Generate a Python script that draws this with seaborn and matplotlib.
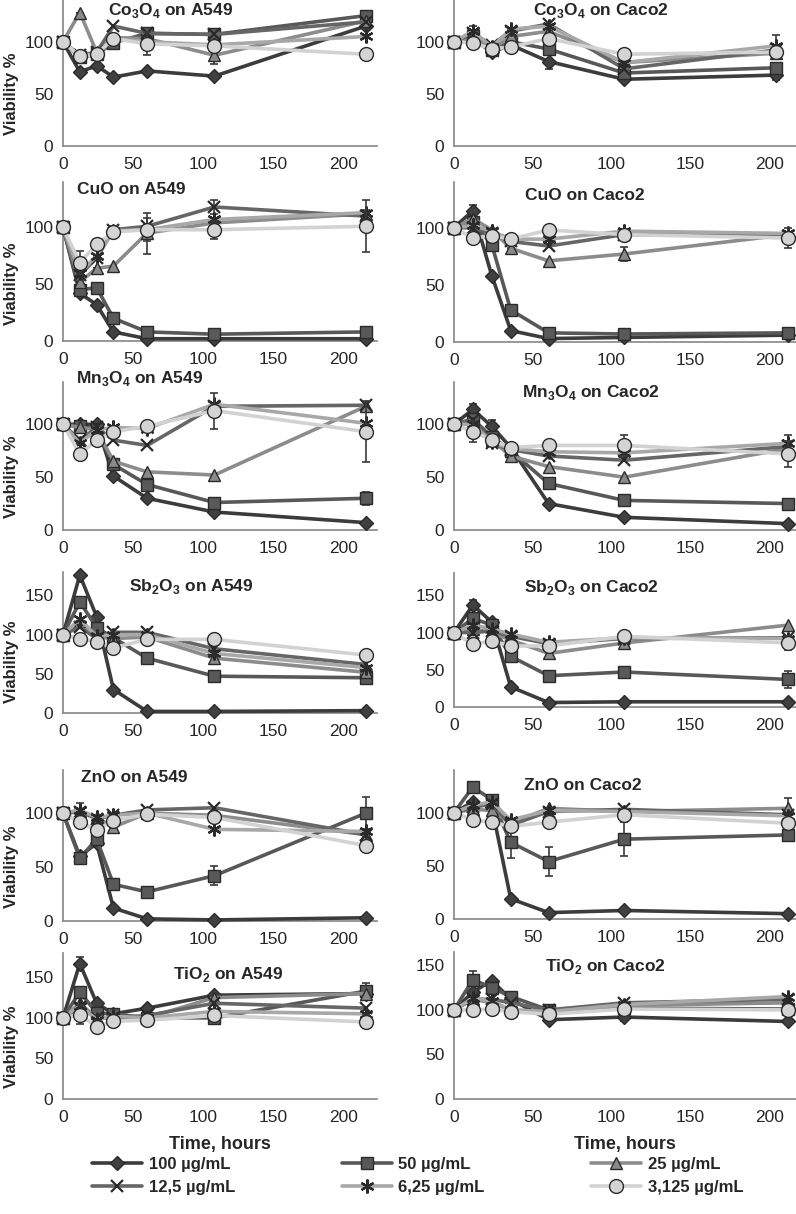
import numpy as np
import pandas as pd
import seaborn as sns
import matplotlib.pyplot as plt
from matplotlib.lines import Line2D

# concentrations (legend order) and sampling times
conc_labels = ["100 µg/mL", "50 µg/mL", "25 µg/mL", "12,5 µg/mL", "6,25 µg/mL", "3,125 µg/mL"]
t_a549 = [0, 12, 24, 36, 60, 108, 216]
t_caco2 = [0, 12, 24, 36, 60, 108, 212]
t_caco2_co = [0, 12, 24, 36, 60, 108, 204]
x_ticks = [0, 50, 100, 150, 200]

# viability %, one row per concentration: 100, 50, 25, 12,5, 6,25, 3,125 µg/mL
co3o4_a549 = [[100, 71, 77, 66, 72, 67, 115],
              [100, 85, 88, 99, 108, 107, 125],
              [100, 128, 90, 104, 103, 87, 120],
              [100, 87, 90, 115, 108, 107, 119],
              [100, 86, 88, 103, 100, 97, 105],
              [100, 86, 88, 103, 98, 96, 88]]
co3o4_caco2 = [[100, 103, 90, 97, 81, 64, 68],
               [100, 105, 92, 100, 93, 70, 75],
               [100, 105, 93, 105, 110, 80, 89],
               [100, 108, 97, 110, 117, 74, 92],
               [100, 110, 95, 112, 115, 80, 96],
               [100, 99, 93, 95, 103, 88, 90]]
cuo_a549 = [[100, 42, 32, 8, 2, 2, 2],
            [100, 45, 47, 20, 8, 6, 8],
            [100, 52, 64, 66, 95, 104, 112],
            [100, 58, 73, 98, 101, 118, 110],
            [100, 60, 75, 97, 98, 107, 113],
            [100, 69, 85, 96, 98, 98, 101]]
cuo_caco2 = [[100, 115, 58, 10, 3, 4, 6],
             [100, 105, 85, 28, 8, 7, 8],
             [100, 108, 98, 82, 71, 77, 94],
             [100, 100, 95, 88, 84, 94, 93],
             [100, 102, 97, 90, 90, 97, 95],
             [100, 91, 93, 90, 98, 94, 91]]
mn3o4_a549 = [[100, 100, 100, 51, 30, 17, 7],
              [100, 98, 96, 62, 43, 26, 30],
              [100, 97, 95, 65, 55, 52, 117],
              [100, 85, 97, 85, 80, 117, 118],
              [100, 82, 95, 97, 96, 119, 101],
              [100, 72, 85, 93, 98, 113, 93]]
mn3o4_caco2 = [[100, 114, 98, 78, 25, 12, 6],
               [100, 105, 88, 75, 44, 28, 25],
               [100, 100, 85, 70, 60, 50, 77],
               [100, 104, 82, 76, 70, 66, 79],
               [100, 100, 83, 77, 74, 73, 82],
               [100, 93, 85, 78, 80, 80, 72]]
sb2o3_a549 = [[100, 176, 123, 30, 2, 2, 3],
              [100, 142, 109, 96, 70, 47, 45],
              [100, 118, 97, 95, 97, 70, 52],
              [100, 110, 95, 103, 103, 82, 62],
              [100, 120, 98, 100, 100, 76, 58],
              [100, 95, 91, 83, 94, 94, 74]]
sb2o3_caco2 = [[100, 137, 114, 27, 6, 7, 7],
               [100, 119, 110, 68, 42, 47, 37],
               [100, 105, 100, 90, 72, 86, 110],
               [100, 100, 102, 95, 85, 92, 93],
               [100, 110, 105, 98, 87, 93, 92],
               [100, 84, 89, 82, 82, 95, 86]]
zno_a549 = [[100, 60, 72, 12, 2, 1, 3],
            [100, 58, 76, 34, 27, 42, 100],
            [100, 102, 96, 87, 100, 98, 80],
            [100, 101, 95, 98, 103, 105, 80],
            [100, 103, 96, 98, 100, 85, 83],
            [100, 92, 84, 93, 99, 96, 70]]
zno_caco2 = [[100, 110, 105, 19, 6, 8, 5],
             [100, 124, 112, 72, 54, 75, 79],
             [100, 103, 102, 90, 104, 101, 104],
             [100, 105, 108, 88, 101, 103, 98],
             [100, 107, 110, 93, 102, 101, 97],
             [100, 93, 91, 87, 91, 98, 90]]
tio2_a549 = [[100, 167, 118, 105, 112, 128, 130],
             [100, 132, 106, 105, 100, 100, 133],
             [100, 118, 100, 100, 100, 125, 130],
             [100, 113, 100, 100, 103, 118, 112],
             [100, 115, 98, 102, 100, 108, 105],
             [100, 104, 89, 96, 97, 103, 95]]
tio2_caco2 = [[100, 120, 133, 112, 89, 92, 87],
              [100, 134, 125, 115, 100, 102, 101],
              [100, 112, 108, 100, 98, 105, 108],
              [100, 112, 112, 108, 100, 108, 112],
              [100, 113, 110, 100, 98, 106, 115],
              [100, 100, 101, 98, 95, 101, 100]]

# error bars (series index -> +/- values)
err_co3o4_a549 = {2: [0, 0, 0, 0, 0, 8, 0], 5: [0, 0, 0, 0, 11, 0, 0]}
err_co3o4_caco2 = {0: [0, 0, 0, 0, 7, 0, 5], 4: [0, 5, 0, 0, 0, 0, 10]}
err_cuo_a549 = {5: [0, 10, 5, 5, 0, 8, 23], 3: [0, 0, 0, 0, 0, 6, 5], 2: [0, 0, 0, 0, 18, 0, 0], 4: [0, 0, 0, 0, 10, 0, 0]}
err_cuo_caco2 = {0: [0, 5, 0, 0, 0, 0, 0], 5: [0, 4, 0, 0, 0, 0, 9], 2: [0, 0, 0, 0, 0, 6, 0]}
err_mn3o4_a549 = {5: [0, 0, 0, 0, 5, 17, 29], 1: [0, 0, 0, 0, 0, 0, 6]}
err_mn3o4_caco2 = {0: [0, 5, 6, 0, 0, 0, 0], 5: [0, 10, 0, 0, 0, 10, 12], 4: [0, 0, 0, 0, 0, 0, 8]}
err_sb2o3_a549 = {}
err_sb2o3_caco2 = {0: [0, 7, 0, 0, 0, 0, 0], 1: [0, 0, 0, 5, 0, 0, 12], 5: [0, 0, 0, 0, 0, 0, 10]}
err_zno_a549 = {1: [0, 0, 0, 0, 0, 9, 15], 4: [0, 6, 0, 0, 0, 0, 0]}
err_zno_caco2 = {1: [0, 0, 0, 15, 14, 16, 0], 2: [0, 0, 0, 0, 0, 0, 10]}
err_tio2_a549 = {0: [0, 8, 0, 0, 0, 0, 0], 5: [0, 12, 0, 0, 0, 0, 8], 1: [0, 0, 0, 0, 0, 0, 10]}
err_tio2_caco2 = {1: [0, 10, 0, 0, 0, 0, 0], 0: [0, 0, 0, 0, 0, 5, 0]}

sns.set_style("white")
plt.rcParams['font.family'] = ['Liberation Sans', 'DejaVu Sans']
plt.rcParams['mathtext.fontset'] = 'custom'
plt.rcParams['mathtext.rm'] = 'Liberation Sans:bold'
plt.rcParams['mathtext.bf'] = 'Liberation Sans:bold'

line_colors = ["#3c3c3c", "#585858", "#8c8c8c", "#666666", "#a8a8a8", "#d2d2d2"]
face_colors = ["#404040", "#595959", "#8a8a8a", "#404040", "#404040", "#d4d4d4"]
markers = ["D", "s", "^", "x", (6, 2, 0), "o"]
msizes = [7, 9, 9, 9, 10, 10]

W, H = 796, 1214
fig = plt.figure(figsize=(W / 100, H / 100), dpi=100)

# (title, times, data, errors, ymax, column, axes top px, axes bottom px, title centre px)
panels = [
    (r"Co$_3$O$_4$ on A549", t_a549, co3o4_a549, err_co3o4_a549, 140, 0, 0, 146, (171, 11)),
    (r"Co$_3$O$_4$ on Caco2", t_caco2_co, co3o4_caco2, err_co3o4_caco2, 140, 1, 0, 146, (601, 11)),
    ("CuO on A549", t_a549, cuo_a549, err_cuo_a549, 140, 0, 182, 341, (131, 189)),
    ("CuO on Caco2", t_caco2, cuo_caco2, err_cuo_caco2, 140, 1, 182, 342, (585, 196)),
    (r"Mn$_3$O$_4$ on A549", t_a549, mn3o4_a549, err_mn3o4_a549, 140, 0, 382, 530, (140, 378)),
    (r"Mn$_3$O$_4$ on Caco2", t_caco2, mn3o4_caco2, err_mn3o4_caco2, 140, 1, 382, 530, (591, 393)),
    (r"Sb$_2$O$_3$ on A549", t_a549, sb2o3_a549, err_sb2o3_a549, 180, 0, 572, 713, (191, 586)),
    (r"Sb$_2$O$_3$ on Caco2", t_caco2, sb2o3_caco2, err_sb2o3_caco2, 180, 1, 573, 707, (591, 588)),
    ("ZnO on A549", t_a549, zno_a549, err_zno_a549, 140, 0, 770, 921, (134, 778)),
    ("ZnO on Caco2", t_caco2, zno_caco2, err_zno_caco2, 140, 1, 770, 919, (583, 785)),
    (r"TiO$_2$ on A549", t_a549, tio2_a549, err_tio2_a549, 180, 0, 953, 1099, (228, 974)),
    (r"TiO$_2$ on Caco2", t_caco2, tio2_caco2, err_tio2_caco2, 165, 1, 952, 1099, (605, 966)),
]

col_x = [(63, 377, 224), (454, 796, 217)]

for i, (title, times, data, errs, ymax, col, top, bot, tpos) in enumerate(panels):
    x0, x1, xmax = col_x[col]
    ax = fig.add_axes([x0 / W, 1 - bot / H, (x1 - x0) / W, (bot - top) / H])
    ax.patch.set_alpha(0)
    df = pd.DataFrame({
        "time": np.tile(times, len(conc_labels)),
        "viability": np.concatenate(data),
        "conc": np.repeat(conc_labels, len(times)),
    })
    for k, lab in enumerate(conc_labels):
        sub = df[df["conc"] == lab]
        sns.lineplot(data=sub, x="time", y="viability", ax=ax, color=line_colors[k],
                     lw=2.6, marker=markers[k], markersize=msizes[k],
                     markerfacecolor=face_colors[k], markeredgecolor="#2a2a2a",
                     markeredgewidth=1.0 if k not in (3, 4) else 1.6,
                     sort=False, estimator=None, legend=False, zorder=3 + k, clip_on=False)
        if k in errs:
            ax.errorbar(times, data[k], yerr=errs[k], fmt="none", ecolor="#3a3a3a",
                        elinewidth=1.2, capsize=3, capthick=1.2, zorder=2 + k, clip_on=False)
    ax.set_xlim(0, xmax)
    ax.set_ylim(0, ymax)
    ax.set_xticks(x_ticks)
    ax.set_xticklabels([str(v) for v in x_ticks])
    ax.set_xticks([25, 75, 125, 175], minor=True)
    ax.set_yticks(np.arange(0, ymax, 50))
    ax.tick_params(axis="x", which="both", direction="out", length=4, width=1,
                   color="#868686", labelsize=12.5, pad=4, labelbottom=True)
    ax.tick_params(axis="y", direction="out", length=4, width=1, color="#868686",
                   labelsize=12.5, pad=3)
    sns.despine(ax=ax)
    for s in ("left", "bottom"):
        ax.spines[s].set_color("#868686")
        ax.spines[s].set_linewidth(1.2)
    if col == 0:
        ax.set_ylabel("Viability %", fontsize=12, fontweight="bold")
        ax.yaxis.set_label_coords(-0.14, 0.36)
    else:
        ax.set_ylabel("")
    if i >= 10:
        ax.set_xlabel("Time, hours", fontsize=13, fontweight="bold", labelpad=8)
    else:
        ax.set_xlabel("")
    fig.text(tpos[0] / W, 1 - tpos[1] / H, title, ha="center", va="center",
             fontsize=12.5, fontweight="bold")

# legend, row-major order like the original
handles = [Line2D([0], [0], color=line_colors[k], lw=2.6, marker=markers[k],
                  markersize=msizes[k], markerfacecolor=face_colors[k],
                  markeredgecolor="#2a2a2a", markeredgewidth=1.0 if k not in (3, 4) else 1.6)
           for k in range(6)]
order = [0, 3, 1, 4, 2, 5]
fig.legend([handles[k] for k in order], [conc_labels[k] for k in order],
           loc="center", bbox_to_anchor=(0.525, 1 - 1176 / H), ncol=3, frameon=False,
           handlelength=3.0, columnspacing=6.4, labelspacing=0.45, handletextpad=0.4,
           prop={"weight": "bold", "size": 12})

plt.savefig("out.png", dpi=100)
